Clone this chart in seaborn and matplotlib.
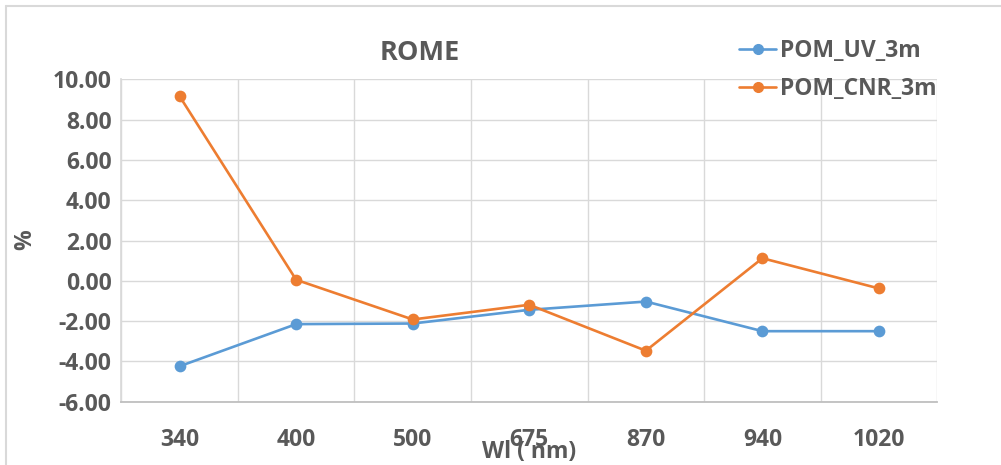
import matplotlib
matplotlib.use("Agg")
import matplotlib.pyplot as plt
from matplotlib.lines import Line2D
from matplotlib.ticker import FixedLocator, FuncFormatter
import seaborn as sns
import pandas as pd

wavelengths = ["340", "400", "500", "675", "870", "940", "1020"]
pom_uv_3m = [-4.24, -2.15, -2.12, -1.44, -1.03, -2.50, -2.50]
pom_cnr_3m = [9.16, 0.05, -1.92, -1.19, -3.47, 1.12, -0.38]
series_names = ["POM_UV_3m", "POM_CNR_3m"]
colors = ["#5B9BD5", "#ED7D31"]
y_ticks = [-6, -4, -2, 0, 2, 4, 6, 8, 10]

df = pd.DataFrame({
    "wl": wavelengths * 2,
    "val": pom_uv_3m + pom_cnr_3m,
    "series": [series_names[0]] * len(wavelengths) + [series_names[1]] * len(wavelengths),
})

sns.set_theme(style="white")
plt.rcParams["font.family"] = ["Open Sans", "Liberation Sans", "DejaVu Sans"]
TXT = "#595959"
FS = 16.5

fig = plt.figure(figsize=(10.01, 4.65), dpi=100)
ax = fig.add_axes([121.3 / 1001, 1 - 401.7 / 465, (937.3 - 121.3) / 1001, (401.7 - 79.3) / 465])

sns.pointplot(data=df, x="wl", y="val", hue="series", order=wavelengths,
              hue_order=series_names, palette=colors, markers="o", linestyles="-",
              markersize=7, linewidth=1.9, ax=ax, legend=False, errorbar=None)

n = len(wavelengths)
ax.set_xlim(-0.5, n - 0.5)
ax.set_ylim(-6, 10)
ax.yaxis.set_major_locator(FixedLocator(y_ticks))
ax.yaxis.set_major_formatter(FuncFormatter(lambda v, p: f"{v:.2f}"))
ax.xaxis.set_minor_locator(FixedLocator([i - 0.5 for i in range(n + 1)]))
ax.grid(True, axis="y", which="major", color="#D9D9D9", linewidth=1.0)
ax.grid(True, axis="x", which="minor", color="#D9D9D9", linewidth=1.0)
ax.grid(False, axis="x", which="major")
ax.set_axisbelow(True)
for s in ["top", "right"]:
    ax.spines[s].set_visible(False)
ax.spines["left"].set_color("#D9D9D9")
ax.spines["bottom"].set_color("#BFBFBF")
ax.spines["bottom"].set_linewidth(1.3)
ax.tick_params(axis="both", which="both", length=0, labelsize=FS, labelcolor=TXT, pad=7)
ax.tick_params(axis="x", pad=19)
for lbl in ax.get_xticklabels() + ax.get_yticklabels():
    lbl.set_fontweight("bold")
ax.set_xlabel("")
ax.set_ylabel("")

fig.text(25 / 1001, 1 - 240 / 465, "%", rotation=90, ha="center", va="center",
         fontsize=FS, fontweight="bold", color=TXT)
fig.text(529 / 1001, 1 - 452 / 465, "Wl ( nm)", ha="center", va="center",
         fontsize=FS, fontweight="bold", color=TXT)
fig.text(420 / 1001, 1 - 53 / 465, "ROME", ha="center", va="center",
         fontsize=19.5, fontweight="bold", color=TXT)

handles = [Line2D([], [], color=c, marker="o", markersize=7, linewidth=1.9) for c in colors]
fig.legend(handles, series_names, loc="upper left", bbox_to_anchor=(728 / 1001, 1 - 28 / 465),
           frameon=False, prop={"size": FS, "weight": "bold"}, labelcolor=TXT,
           handlelength=1.6, handletextpad=0.15, labelspacing=0.6, borderpad=0)

fig.add_artist(Line2D([6 / 1001, 6 / 1001], [0, 1 - 6 / 465], transform=fig.transFigure,
                      color="#D9D9D9", linewidth=1.5))
fig.add_artist(Line2D([6 / 1001, 1], [1 - 6 / 465, 1 - 6 / 465], transform=fig.transFigure,
                      color="#D9D9D9", linewidth=1.5))

fig.savefig("out.png", dpi=100)
